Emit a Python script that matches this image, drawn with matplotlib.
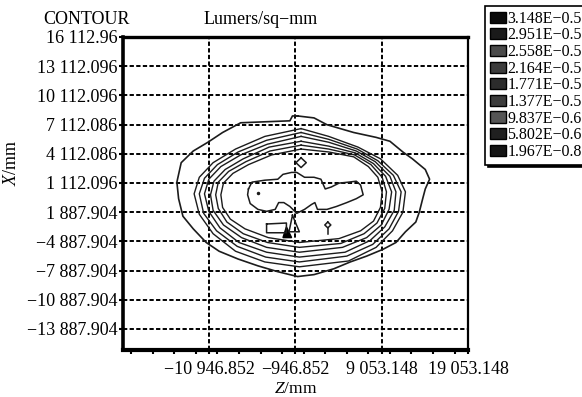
import numpy as np
import matplotlib
matplotlib.use("Agg")
import matplotlib.pyplot as plt
from matplotlib.patches import Patch
from matplotlib.ticker import MultipleLocator

plt.rcParams['font.family'] = ['Liberation Serif', 'DejaVu Serif']
plt.rcParams['mathtext.fontset'] = 'custom'
plt.rcParams['mathtext.rm'] = 'Liberation Serif'
plt.rcParams['mathtext.it'] = 'Liberation Serif:italic'

# axis ticks (Z horizontal, X vertical, mm)
z_ticks = [-10946.852, -946.852, 9053.148, 19053.148]
z_labels = ["\u221210 946.852", "\u2212946.852", "9 053.148", "19 053.148"]
x_ticks = [16112.096, 13112.096, 10112.096, 7112.096, 4112.096, 1112.096,
           -1887.904, -4887.904, -7887.904, -10887.904, -13887.904]
x_labels = ["16 112.96", "13 112.096", "10 112.096", "7 112.086", "4 112.086",
            "1 112.096", "1 887.904", "\u22124 887.904", "\u22127 887.904",
            "\u221210 887.904", "\u221213 887.904"]

# legend levels
levels = ["3.148E\u22120.5", "2.951E\u22120.5", "2.558E\u22120.5", "2.164E\u22120.5",
          "1.771E\u22120.5", "1.377E\u22120.5", "9.837E\u22120.6", "5.802E\u22120.6",
          "1.967E\u22120.8"]
level_colors = ["#0a0a0a", "#1a1a1a", "#4a4a4a", "#3c3c3c", "#2c2c2c",
                "#3c3c3c", "#555555", "#202020", "#151515"]

# outer contour (lowest level)
outer_z = [-700, 1200, 2700, 5800, 8400, 10000, 11500, 12600, 14100, 14600, 14100,
           13800, 13400, 13000, 11800, 10700, 9200, 7300, 5400, 3500, 1200, -700,
           -3000, -5300, -7600, -9800, -11300, -12800, -14000, -14500, -14700,
           -14200, -12800, -11100, -9400, -7300, -4500, -1600, -1300]
outer_x = [8000, 7800, 7100, 6300, 5800, 5400, 4300, 3600, 2500, 1500, 500,
           -500, -1900, -2900, -3900, -5000, -5700, -6400, -7000, -7700, -8300, -8500,
           -8000, -7400, -6700, -5900, -5000, -3600, -2300, -500, 1200,
           3200, 4400, 5300, 6300, 7300, 7400, 7500, 8000]

# six nested rings, outermost first
ring_z = [
    [-300, 2900, 6300, 8900, 10900, 11800, 11500, 10300, 8400, 5200,
     -500, -4500, -7900, -10500, -12100, -12700, -12100, -10500, -7900, -4500],
    [-300, 2900, 6200, 8600, 10400, 11300, 11000, 9900, 8000, 5000,
     -500, -4400, -7700, -10100, -11600, -12100, -11500, -10000, -7600, -4300],
    [-300, 2900, 6100, 8300, 10000, 10700, 10500, 9400, 7700, 4800,
     -500, -4300, -7500, -9700, -11000, -11500, -11000, -9600, -7300, -4200],
    [-300, 2900, 6000, 8100, 9500, 10200, 9900, 9000, 7300, 4500,
     -500, -4300, -7200, -9300, -10500, -10800, -10400, -9100, -7000, -4000],
    [-300, 2900, 5900, 7800, 9100, 9600, 9400, 8500, 7000, 4300,
     -500, -4200, -7000, -8900, -9900, -10200, -9900, -8700, -6700, -3900],
    [-300, 2900, 5800, 7500, 8600, 9100, 8900, 8100, 6600, 4100,
     -500, -4100, -6800, -8500, -9400, -9600, -9300, -8200, -6400, -3700],
]
ring_x = [
    [6700, 5900, 4800, 3600, 1900, 200, -1900, -3800, -5500, -6900,
     -7500, -7000, -5900, -4100, -2100, 0, 1700, 3200, 4600, 5900],
    [6300, 5600, 4600, 3400, 1900, 200, -1800, -3600, -5200, -6400,
     -7000, -6500, -5400, -3800, -2000, 0, 1600, 3000, 4300, 5500],
    [5900, 5300, 4400, 3300, 1800, 200, -1700, -3400, -4800, -6000,
     -6500, -6000, -5000, -3500, -1800, 0, 1500, 2800, 4000, 5100],
    [5400, 4900, 4200, 3100, 1800, 200, -1600, -3200, -4500, -5500,
     -6000, -5500, -4500, -3200, -1700, -100, 1300, 2500, 3600, 4800],
    [5000, 4600, 4000, 3000, 1700, 200, -1500, -3000, -4100, -5100,
     -5500, -5000, -4100, -2900, -1500, -100, 1200, 2300, 3300, 4400],
    [4600, 4300, 3800, 2800, 1700, 200, -1400, -2800, -3800, -4600,
     -5000, -4500, -3600, -2600, -1400, -100, 1100, 2100, 3000, 4000],
]

# inner plateau
blob_z = [-6400, -6000, -4500, -3000, -2400, -1400, -800, 100, 1200, 2000, 2500,
          3200, 4100, 5200, 6100, 6600, 6900, 6100, 5000, 3800, 2700, 1600, 1300,
          900, 100, -800, -1600, -2300, -2900, -3300, -4300, -5300, -6200, -6500]
blob_x = [500, 1200, 1400, 1500, 2000, 2200, 2200, 1700, 1700, 1500, 500,
          700, 1100, 1200, 1300, 900, -100, -500, -900, -1300, -1600, -1600, -900,
          -1100, -1600, -2000, -1300, -900, -900, -1600, -1800, -1600, -1000, -100]

# small peaks
diamond_z = [-300, 300, -300, -900]
diamond_x = [3700, 3200, 2700, 3200]
loop_z = [2800, 3150, 2800, 2450]
loop_x = [-2900, -3200, -3500, -3200]
stem_z = [2800, 2800]
stem_x = [-3500, -4100]
rect_z = [-4300, -2000, -2000, -4300]
rect_x = [-3100, -3000, -4000, -4000]
tri_z = [-1300, -500, -1700]
tri_x = [-2200, -3900, -3900]
peak_z = [-2000, -1400, -2400]
peak_x = [-3400, -4500, -4500]
dot_z = [-5300]
dot_x = [100]

fig = plt.figure(figsize=(5.82, 3.97), dpi=100)
ax = fig.add_axes([123 / 582, 1 - 350 / 397, 345 / 582, 313 / 397])


def closed(a):
    return np.append(a, a[0])


line_col = "#1c1c1c"
ax.plot(closed(outer_z), closed(outer_x), color=line_col, lw=1.2)
for rz, rx in zip(ring_z, ring_x):
    ax.plot(closed(rz), closed(rx), color=line_col, lw=1.0)
ax.plot(closed(blob_z), closed(blob_x), color=line_col, lw=1.1)
ax.plot(closed(diamond_z), closed(diamond_x), color=line_col, lw=1.1)
ax.plot(closed(loop_z), closed(loop_x), color=line_col, lw=1.1)
ax.plot(stem_z, stem_x, color=line_col, lw=1.1)
ax.plot(closed(rect_z), closed(rect_x), color=line_col, lw=1.1)
ax.plot(closed(tri_z), closed(tri_x), color=line_col, lw=1.1)
ax.fill(peak_z, peak_x, color="black")
ax.plot(dot_z, dot_x, marker='.', ms=3, color=line_col, ls='none')

ax.set_xlim(-20946.852, 19053.148)
ax.set_ylim(-16046, 16112.096)
ax.set_xticks(z_ticks)
ax.set_xticklabels(z_labels, fontsize=13)
ax.set_yticks(x_ticks)
ax.set_yticklabels(x_labels, fontsize=13)
ax.xaxis.set_minor_locator(MultipleLocator(2500))
ax.tick_params(axis='both', which='major', direction='out', length=3, width=1.5,
               color='black', pad=1)
ax.tick_params(axis='x', which='major', pad=5)
ax.tick_params(axis='x', which='minor', direction='out', length=3, width=1.5)
ax.grid(True, color='black', linestyle=(0, (2.2, 1.2)), lw=1.4)

for side, w in [('left', 2.6), ('bottom', 3.0), ('top', 2.4), ('right', 1.6)]:
    ax.spines[side].set_linewidth(w)
    ax.spines[side].set_color('black')

fig.text(43 / 582, 1 - 20 / 397, "CONTOUR", ha='left', va='center', fontsize=13)
fig.text(204 / 582, 1 - 20 / 397, "Lumers/sq\u2212mm", ha='left', va='center',
         fontsize=13)
fig.text(296 / 582, 1 - 389 / 397, r"$\mathit{Z}$/mm", ha='center', va='center',
         fontsize=12.5)
fig.text(12 / 582, 1 - 163 / 397, r"$\mathit{X}$/mm", ha='center', va='center',
         rotation=90, fontsize=13)

handles = [Patch(facecolor=c, edgecolor='black', lw=1) for c in level_colors]
leg = fig.legend(handles, levels, loc='upper left',
                 bbox_to_anchor=(485 / 582, 1 - 6 / 397), frameon=True,
                 fancybox=False, shadow={'color': 'black', 'alpha': 1},
                 fontsize=11.5, handlelength=1.0, handleheight=0.7,
                 handletextpad=0.1, labelspacing=0.04, borderpad=0.3,
                 borderaxespad=0, edgecolor='black', framealpha=1)
leg.get_frame().set_linewidth(1.2)

fig.savefig("out.png", dpi=100)
